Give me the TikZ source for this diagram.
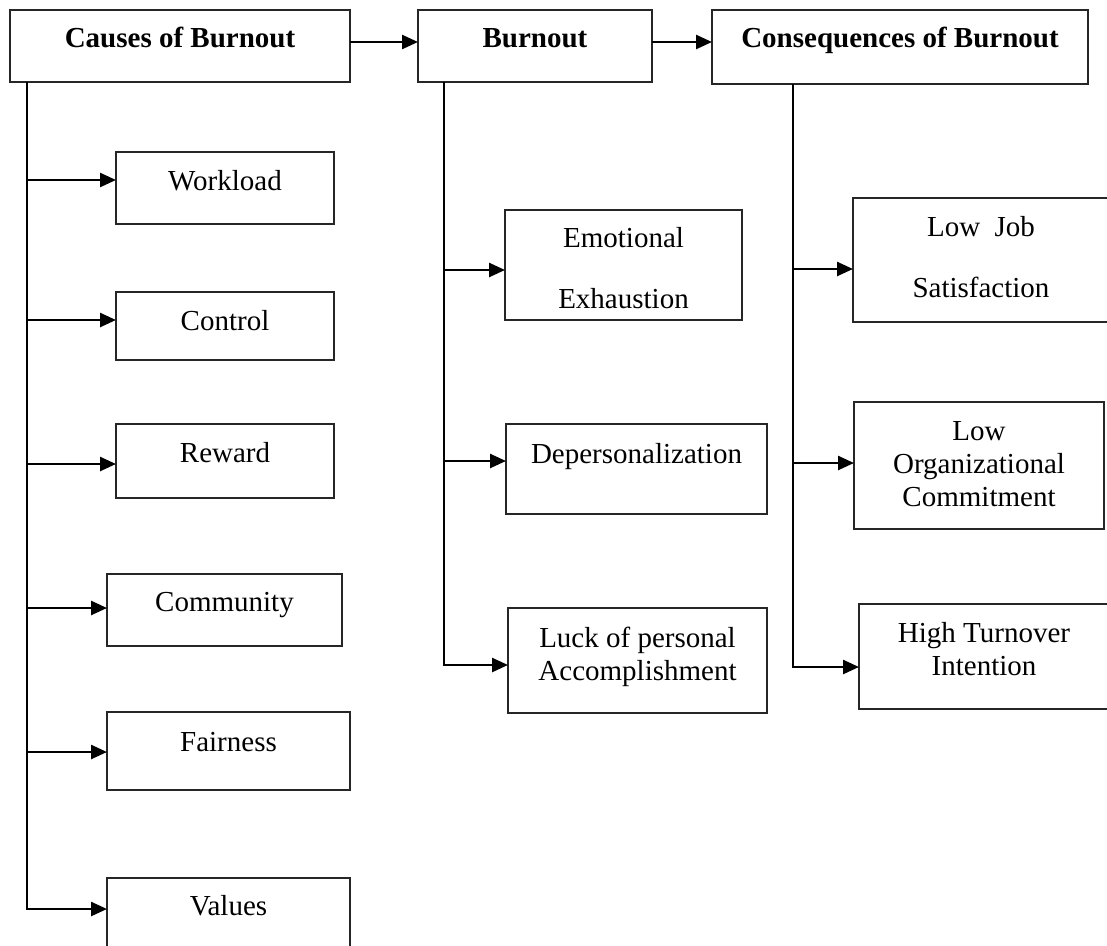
\documentclass[tikz,border=0pt]{standalone}
\usepackage{fontspec}
\setmainfont{Liberation Serif}
\usetikzlibrary{arrows.meta}
\begin{document}
\begin{tikzpicture}[x=1pt,y=-1pt,
  box/.style={draw=black!85, line width=1.2pt, anchor=north west,
    inner sep=0pt, outer sep=0pt},
  lbl/.style={font=\fontsize{29}{33}\selectfont, align=center,
    anchor=base, inner sep=0pt},
  head/.style={lbl, font=\fontsize{29}{33}\selectfont\bfseries},
  conn/.style={line width=2.5pt, line cap=butt},
  arr/.style={conn, -{Triangle[length=16pt,width=14pt]}}]
\useasboundingbox (0,0) rectangle (1107,945);
\fill[white] (0,0) rectangle (1107,945);
\clip (0,0) rectangle (1107,945);

% top row
\node[box, minimum width=340pt, minimum height=72pt] (causes) at (10,10) {};
\node[box, minimum width=234pt, minimum height=72pt] (burn) at (418,10) {};
\node[box, minimum width=376pt, minimum height=74pt] (cons) at (712,10) {};
\node[head] at (causes.north |- 0,47) {Causes of Burnout};
\node[head] at (burn.north |- 0,47) {Burnout};
\node[head] at (cons.north |- 0,47) {Consequences of Burnout};
\draw[arr] ([yshift=4pt]causes.east) -- ([yshift=4pt]burn.west);
\draw[arr] ([yshift=4pt]burn.east) -- ([yshift=5pt]cons.west);

% causes (labels: anchor base = baseline of last line)
\node[box, minimum width=218pt, minimum height=72pt] (wl) at (116,152) {};
\node[box, minimum width=218pt, minimum height=68pt] (ctl) at (116,292) {};
\node[box, minimum width=218pt, minimum height=74pt] (rew) at (116,424) {};
\node[box, minimum width=235pt, minimum height=72pt] (com) at (107,574) {};
\node[box, minimum width=243pt, minimum height=78pt] (fair) at (107,712) {};
\node[box, minimum width=243pt, minimum height=72pt] (val) at (107,878) {};
\node[lbl] at (wl.north |- 0,190) {Workload};
\node[lbl] at (ctl.north |- 0,330) {Control};
\node[lbl] at (rew.north |- 0,462) {Reward};
\node[lbl] at (com.north |- 0,611) {Community};
\node[lbl] at (fair.north |- 0,751) {Fairness};
\node[lbl] at (val.north |- 0,915) {Values};

\coordinate (ta) at ([xshift=17pt]causes.south west);
\coordinate (wlin) at ([yshift=8pt]wl.west);
\coordinate (ctlin) at ([yshift=6pt]ctl.west);
\coordinate (rewin) at ([yshift=-3pt]rew.west);
\coordinate (comin) at ([yshift=2pt]com.west);
\coordinate (fairin) at ([yshift=-1pt]fair.west);
\coordinate (valin) at ([yshift=5pt]val.west);
\draw[arr] (ta) |- (valin);
\draw[arr] (wlin -| ta) -- (wlin);
\draw[arr] (ctlin -| ta) -- (ctlin);
\draw[arr] (rewin -| ta) -- (rewin);
\draw[arr] (comin -| ta) -- (comin);
\draw[arr] (fairin -| ta) -- (fairin);

% dimensions of burnout
\node[box, minimum width=237pt, minimum height=110pt] (emo) at (505,210) {};
\node[box, minimum width=261pt, minimum height=90pt] (dep) at (506,424) {};
\node[box, minimum width=259pt, minimum height=105pt] (luck) at (508,608) {};
\node[lbl] at (emo.north |- 0,308) {Emotional\\[28pt]Exhaustion};
\node[lbl] at (dep.north |- 0,463) {Depersonalization};
\node[lbl] at (luck.north |- 0,680) {Luck of personal\\Accomplishment};

\coordinate (tb) at ([xshift=26pt]burn.south west);
\coordinate (emoin) at ([yshift=-5pt]emo.west);
\coordinate (depin) at ([yshift=8pt]dep.west);
\coordinate (luckin) at ([yshift=-4.5pt]luck.west);
\draw[arr] (tb) |- (luckin);
\draw[arr] (emoin -| tb) -- (emoin);
\draw[arr] (depin -| tb) -- (depin);

% consequences
\node[box, minimum width=256pt, minimum height=124pt] (job) at (853,198) {};
\node[box, minimum width=250pt, minimum height=127pt] (org) at (854,402) {};
\node[box, minimum width=250pt, minimum height=105pt] (turn) at (859,604) {};
\node[lbl] at (job.north |- 0,297) {Low\ \ Job\\[28pt]Satisfaction};
\node[lbl] at (org.north |- 0,506) {Low\\Organizational\\Commitment};
\node[lbl] at (turn.north |- 0,675) {High Turnover\\Intention};

\coordinate (tc) at ([xshift=81pt]cons.south west);
\coordinate (jobin) at ([yshift=-9pt]job.west);
\coordinate (orgin) at ([yshift=2.5pt]org.west);
\coordinate (turnin) at ([yshift=-10.5pt]turn.west);
\draw[arr] (tc) |- (turnin);
\draw[arr] (jobin -| tc) -- (jobin);
\draw[arr] (orgin -| tc) -- (orgin);
\end{tikzpicture}
\end{document}
